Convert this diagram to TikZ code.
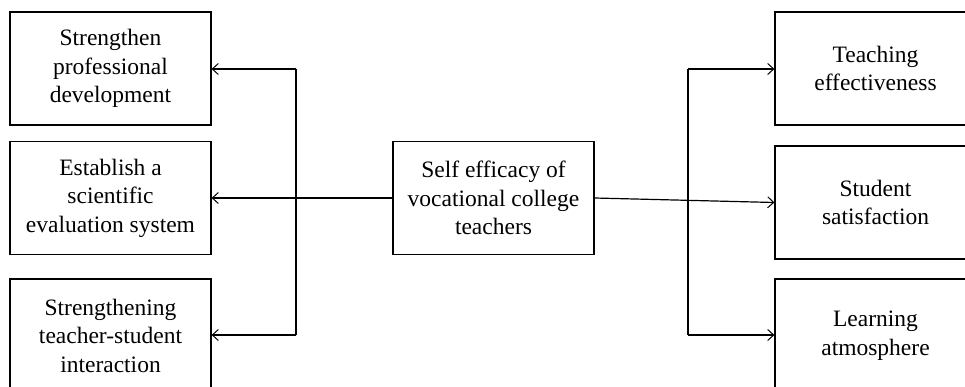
\documentclass[tikz,border=0pt]{standalone}
\usepackage{fontspec}
\setmainfont{Liberation Serif}
\usetikzlibrary{arrows.meta}
\begin{document}
\begin{tikzpicture}[x=1pt,y=-1pt,
  box/.style={draw,line width=1.2pt,minimum width=201pt,minimum height=113pt,align=center,inner sep=0pt,
    font=\fontsize{23.5}{28.5}\selectfont},
  conn/.style={line width=1.2pt,-{Straight Barb[length=6pt,width=11pt,line width=1pt]}},
  bus/.style={line width=1.2pt}]
\useasboundingbox (0,0) rectangle (965,387);
\node[box] (l1) at (110.5,68.5) {Strengthen\\professional\\development};
\node[box] (l2) at (110.5,198) {Establish a\\scientific\\evaluation system};
\node[box] (l3) at (110.5,335.5) {Strengthening\\teacher-student\\interaction};
\node[box] (c) at (493.5,198) {Self efficacy of\\vocational college\\teachers};
\node[box] (r1) at (875.5,68.5) {Teaching\\effectiveness};
\node[box] (r2) at (875.5,202.5) {Student\\satisfaction};
\node[box] (r3) at (875.5,335.5) {Learning\\atmosphere};
\coordinate (lt) at (296,69);
\coordinate (lb) at (296,335);
\coordinate (rt) at (688,69);
\coordinate (rb) at (688,335);
\draw[bus] (lt) -- (lb);
\draw[bus] (rt) -- (rb);
\draw[conn] (lt) -- (lt -| l1.east);
\draw[conn] (lb) -- (lb -| l3.east);
\draw[conn] (c.west) -- (l2.east);
\draw[conn] (rt) -- (rt -| r1.west);
\draw[conn] (rb) -- (rb -| r3.west);
\draw[conn] (c.east) -- (r2.west);
\end{tikzpicture}
\end{document}
